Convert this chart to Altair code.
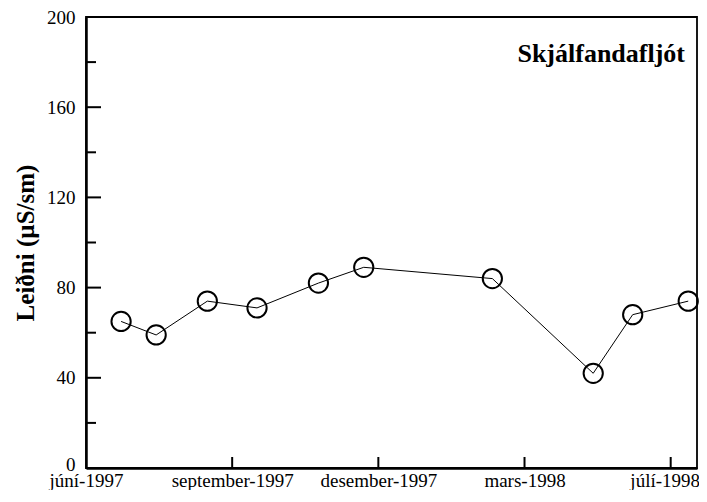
import altair as alt
import pandas as pd

# Data
dates = ["1997-06-25", "1997-07-19", "1997-08-23", "1997-09-26", "1997-11-07",
         "1997-12-08", "1998-03-06", "1998-05-14", "1998-06-10", "1998-07-18"]
values = [65, 59, 74, 71, 82, 89, 84, 42, 68, 74]

origin = "1997-06-01"
domain_end = "1998-07-24"
tick_dates = ["1997-06-01", "1997-09-09", "1997-12-18", "1998-03-28", "1998-07-06"]
tick_labels = ["júní-1997", "september-1997", "desember-1997", "mars-1998", "júlí-1998"]
y_major = [0, 40, 80, 120, 160, 200]
y_minor = [20, 60, 100, 140, 180]
title_text = "Skjálfandafljót"
y_title = "Leiðni (µS/sm)"

t0 = pd.Timestamp(origin)
days = [(pd.Timestamp(d) - t0).days for d in dates]
tick_days = [(pd.Timestamp(d) - t0).days for d in tick_dates]
x_end = (pd.Timestamp(domain_end) - t0).days

df = pd.DataFrame({"day": days, "value": values})
W, H = 611, 451
FONT = "Liberation Serif"

xscale = alt.Scale(domain=[0, x_end], nice=False, zero=False)
yscale = alt.Scale(domain=[0, 200], nice=False)

label_expr = "[" + ",".join("'%s'" % s for s in tick_labels) + "][indexof([" + \
    ",".join(str(d) for d in tick_days) + "], datum.value)]"

xaxis = alt.Axis(values=tick_days, labelExpr=label_expr, title=None,
                 ticks=False, grid=False, domain=True, domainColor="black",
                 domainWidth=2.5, labelFontSize=19, labelFont=FONT,
                 labelColor="black", labelPadding=18, labelBaseline="alphabetic",
                 labelFlush=False, labelOverlap=False,
                 labelOffset=alt.condition("datum.value == %d" % tick_days[-1],
                                           alt.value(-6), alt.value(0)))
yaxis = alt.Axis(values=y_major, title=y_title, ticks=False, grid=False,
                 domain=True, domainColor="black", domainWidth=2.5,
                 labelFontSize=19, labelFont=FONT, labelColor="black",
                 labelPadding=11, titleFont=FONT, titleFontSize=25,
                 titleFontWeight="bold", titleColor="black", titlePadding=8,
                 labelOffset=alt.condition("datum.value == 0",
                                           alt.value(-4), alt.value(0)))

line = alt.Chart(df).mark_line(color="black", strokeWidth=1).encode(
    x=alt.X("day:Q", scale=xscale, axis=xaxis),
    y=alt.Y("value:Q", scale=yscale, axis=yaxis),
)

points = alt.Chart(df).mark_point(shape="circle", size=370, filled=False,
                                  color="black", strokeWidth=2, opacity=1).encode(
    x=alt.X("day:Q", scale=xscale, axis=xaxis),
    y=alt.Y("value:Q", scale=yscale, axis=yaxis),
)

ymaj = alt.Chart(pd.DataFrame({"value": y_major[1:-1]})).mark_rule(color="black", strokeWidth=2).encode(
    y=alt.Y("value:Q", scale=yscale, axis=yaxis), x=alt.value(0), x2=alt.value(15))
ymin = alt.Chart(pd.DataFrame({"value": y_minor})).mark_rule(color="black", strokeWidth=2).encode(
    y=alt.Y("value:Q", scale=yscale, axis=yaxis), x=alt.value(0), x2=alt.value(10))
xt = alt.Chart(pd.DataFrame({"day": tick_days[1:]})).mark_rule(color="black", strokeWidth=2).encode(
    x=alt.X("day:Q", scale=xscale, axis=xaxis), y=alt.value(H - 11), y2=alt.value(H))

title = alt.Chart(pd.DataFrame({"t": [title_text]})).mark_text(
    font=FONT, fontSize=26, fontWeight="bold", color="black", align="right",
    baseline="alphabetic").encode(text="t:N", x=alt.value(599), y=alt.value(45))

chart = alt.layer(line, points, ymaj, ymin, xt, title).properties(
    width=W, height=H, autosize="none",
    padding={"left": 78, "top": 9, "right": 2, "bottom": 22},
).configure(font=FONT).configure_view(stroke="black", strokeWidth=1.8)

chart.save("out.html", embed_options={"renderer": "svg", "actions": False})
